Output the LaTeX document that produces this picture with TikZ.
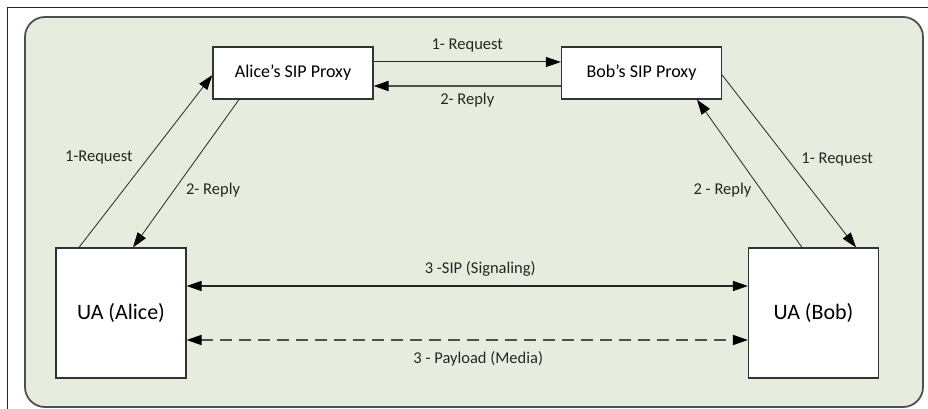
\documentclass[tikz,border=0pt]{standalone}
\usepackage{fontspec}
\setmainfont{Carlito}
\usepackage{tikz}
\usetikzlibrary{arrows.meta, positioning}
\definecolor{panel}{RGB}{231,237,222}
\definecolor{edge}{RGB}{80,80,80}

\begin{document}
\begin{tikzpicture}[x=1pt, y=1pt, node distance = 240pt]

\tikzstyle{field} = [rectangle, minimum width=160pt, minimum height=52pt, text centered, draw=black!80, line width=1.2pt, fill=white, font=\fontsize{18}{20}\selectfont]
\tikzstyle{ua} = [rectangle, minimum width=130pt, minimum height=130pt, text centered, draw=black!80, line width=1.2pt, fill=white, font=\fontsize{22}{24}\selectfont]
\tikzstyle{arrow} = [->, >={Triangle[length=15pt, width=10pt, black]}, line width=0.8pt, draw=black!85]
\tikzstyle{tag} = [font=\fontsize{16.5}{18}\selectfont, text=black!85]

\useasboundingbox (0,0) rectangle (928,409);

% frame
\draw[line width=1pt, black!85] (7,0) -- (7,401) -- (928,401);
\draw[edge, line width=1.8pt, fill=panel, rounded corners=20pt] (25,2) rectangle (923,392);

% proxies
\node (alice_proxy)[field] at (293,336) {Alice’s SIP Proxy};
\node (bob_proxy)[field, right of = alice_proxy, xshift = 108.5pt] {Bob’s SIP Proxy};

% user agents
\node (ua_alice)[ua, below of = alice_proxy, xshift = -172pt] {UA (Alice)};
\node (ua_bob)[ua, below of = bob_proxy, xshift = 172pt] {UA (Bob)};

% arrows between proxies
\draw[arrow, line width=1pt] ([yshift=11pt]alice_proxy.east) -- node[tag, above=5.8pt] {1- Request} ([yshift=11pt]bob_proxy.west);
\draw[arrow, line width=1.8pt, draw=edge] ([yshift=-13pt]bob_proxy.west) -- node[tag, below=2.8pt] {2- Reply} ([yshift=-13pt]alice_proxy.east);

% alice side
\draw[arrow] ([xshift=-42pt]ua_alice.north) -- node[tag, left=12pt, pos=0.52] {1-Request} ([yshift=-2pt]alice_proxy.west);
\draw[arrow] ([xshift=-54pt]alice_proxy.south) -- node[tag, right=8pt, pos=0.61] {2- Reply} ([xshift=12pt]ua_alice.north);

% bob side
\draw[arrow] ([yshift=-2pt]bob_proxy.east) -- node[tag, right=10pt, pos=0.49] {1- Request} ([xshift=42.5pt]ua_bob.north);
\draw[arrow] ([xshift=-11.5pt]ua_bob.north) -- node[tag, left=6pt, pos=0.39] {2 - Reply} ([xshift=55.5pt]bob_proxy.south);

% end to end
\draw[arrow, <->, line width=1.2pt] ([yshift=27pt]ua_alice.east) -- node[tag, above=5.8pt, xshift=13pt] {3 -SIP (Signaling)} ([yshift=27pt]ua_bob.west);
\draw[arrow, <->, line width=1.8pt, draw=edge, dash pattern=on 12pt off 7pt] ([yshift=-27pt]ua_alice.east) -- node[tag, below=6.8pt, xshift=11pt] {3 - Payload (Media)} ([yshift=-27pt]ua_bob.west);

\end{tikzpicture}
\end{document}
